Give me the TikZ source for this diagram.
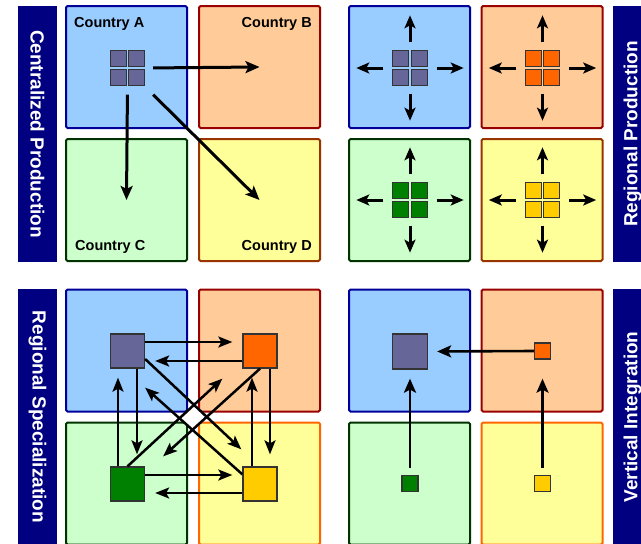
\documentclass[tikz,border=0pt]{standalone}
\usepackage{fontspec}
\setmainfont{Liberation Sans}
\usetikzlibrary{arrows.meta}

\definecolor{bandnavy}{HTML}{000080}
\definecolor{skyfill}{HTML}{99CCFF}
\definecolor{skyline}{HTML}{000099}
\definecolor{peachfill}{HTML}{FFCC99}
\definecolor{peachline}{HTML}{990000}
\definecolor{mintfill}{HTML}{CCFFCC}
\definecolor{mintline}{HTML}{003300}
\definecolor{lemonfill}{HTML}{FFFF99}
\definecolor{lemonline}{HTML}{993300}
\definecolor{lemonlinelow}{HTML}{FF6600}
\definecolor{plantA}{HTML}{666699}
\definecolor{plantB}{HTML}{FF6600}
\definecolor{plantC}{HTML}{008000}
\definecolor{plantD}{HTML}{FFCC00}
\definecolor{cellline}{HTML}{333333}

% 2x2 block of production cells, centred on the current point
\tikzset{
  pics/quad/.style={code={
    \foreach \sx in {-1,1}
      \foreach \sy in {-1,1}
        \draw[draw=cellline, line width=0.9pt, fill=#1]
          ({\sx*9.25-8},{\sy*9.25-8}) rectangle +(16,16);
  }}
}

\begin{document}
\begin{tikzpicture}[x=1pt,y=-1pt,
  region/.style={draw, line width=2pt, rounded corners=1.5pt,
    minimum width=121pt, minimum height=122pt, inner sep=0pt},
  sky/.style={region, fill=skyfill, draw=skyline},
  peach/.style={region, fill=peachfill, draw=peachline},
  mint/.style={region, fill=mintfill, draw=mintline},
  lemon/.style={region, fill=lemonfill, draw=lemonline},
  lemonlow/.style={region, fill=lemonfill, draw=lemonlinelow},
  band/.style={fill=bandnavy, minimum width=256pt, minimum height=39pt,
    inner sep=0pt, text=white, font=\bfseries\fontsize{19}{23}\selectfont},
  tag/.style={inner sep=0pt, font=\bfseries\fontsize{14.5}{17}\selectfont},
  spot/.style={minimum size=35pt, inner sep=0pt},
  plant/.style={draw=cellline, line width=1.3pt, inner sep=0pt},
  flow/.style={line width=3pt, -{Stealth[length=14pt,width=12pt,inset=3pt]}},
  spoke/.style={line width=3pt, -{Stealth[length=13pt,width=11pt,inset=3pt]}},
  trade/.style={line width=2.5pt, -{Stealth[length=14pt,width=11pt,inset=3pt]}},
  feed/.style={line width=2.6pt, -{Stealth[length=14pt,width=12pt,inset=3pt]}}
]
\useasboundingbox (0,0) rectangle (641,544);

% ---------- side banners ----------
\node[band, rotate=-90] (bandCP) at (37.5,134) {Centralized Production};
\node[band, rotate=90]  (bandRP) at (632.5,134) {Regional Production};
\node[band, rotate=-90] (bandRS) at (37.5,417) {Regional Specialization};
\node[band, rotate=90]  (bandVI) at (632.5,417) {Vertical Integration};

% ---------- centralized production ----------
\node[sky]   (cA) at (126.5,67)  {};
\node[peach] (cB) at (259.5,67)  {};
\node[mint]  (cC) at (126.5,200) {};
\node[lemon] (cD) at (259.5,200) {};
\node[tag, anchor=base west] (labA) at (74,27.5)  {Country A};
\node[tag, anchor=base east] (labB) at (312,27.5) {Country B};
\node[tag, anchor=base west] (labC) at (75,250.5) {Country C};
\node[tag, anchor=base east] (labD) at (312,250.5) {Country D};
\node[spot] (hubA) at (127.5,68) {};
\pic at (hubA) {quad=plantA};
\draw[flow, shorten <=8pt] (hubA.east) -- (cB.center);
\draw[flow, shorten <=9pt] (hubA.south) -- (cC.center);
\draw[flow] ([xshift=8pt,yshift=-9pt]hubA.south east) -- (cD.center);

% ---------- regional production ----------
\node[sky]   (rA) at (409.5,67)  {};
\node[peach] (rB) at (542,67)    {};
\node[mint]  (rC) at (409.5,200) {};
\node[lemon] (rD) at (542,200)   {};
\node[spot] (hA) at (410,68)    {};
\node[spot] (hB) at (542.5,68)  {};
\node[spot] (hC) at (410,200)   {};
\node[spot] (hD) at (542.5,200) {};
\pic at (hA) {quad=plantA};
\pic at (hB) {quad=plantB};
\pic at (hC) {quad=plantC};
\pic at (hD) {quad=plantD};
\foreach \h in {hA,hB,hC,hD} {
  \draw[spoke] ([yshift=8pt]\h.north)  -- ([yshift=35pt]\h.north);
  \draw[spoke] ([yshift=-8pt]\h.south) -- ([yshift=-35pt]\h.south);
  \draw[spoke] ([xshift=9pt]\h.east)   -- ([xshift=36pt]\h.east);
  \draw[spoke] ([xshift=-9pt]\h.west)  -- ([xshift=-36pt]\h.west);
}

% ---------- regional specialization ----------
\node[sky]      (sqA) at (126.5,350.5) {};
\node[peach]    (sqB) at (259.5,350.5) {};
\node[mint]     (sqC) at (126.5,483.5) {};
\node[lemonlow] (sqD) at (259.5,483.5) {};
\node[plant, fill=plantA, minimum size=34pt] (sA) at (127.5,351) {};
\node[plant, fill=plantB, minimum size=34pt] (sB) at (260,351)   {};
\node[plant, fill=plantC, minimum size=34pt] (sC) at (127.5,484) {};
\node[plant, fill=plantD, minimum size=34pt] (sD) at (260,484)   {};

\coordinate (d1s) at ([yshift=-8pt]sA.east);
\coordinate (d1e) at ([xshift=-1pt,yshift=17pt]sD.north west);
\coordinate (d2s) at ([yshift=-8pt]sD.north west);
\coordinate (d2e) at ([yshift=-19pt]sA.south east);
\coordinate (d3s) at (sB.south);
\coordinate (d3e) at ([xshift=18pt,yshift=10pt]sC.north east);
\coordinate (d4s) at (sC.north);
\coordinate (d4e) at ([xshift=-20pt,yshift=-10pt]sB.south west);
\fill[white] (intersection of d1s--d1e and d4s--d4e)
          -- (intersection of d1s--d1e and d3s--d3e)
          -- (intersection of d2s--d2e and d3s--d3e)
          -- (intersection of d2s--d2e and d4s--d4e) -- cycle;
\draw[trade] (d1s) -- (d1e);
\draw[trade] (d2s) -- (d2e);
\draw[trade] (d3s) -- (d3e);
\draw[trade] (d4s) -- (d4e);

\draw[trade, shorten >=10pt] ([yshift=9pt]sA.east)    -- ([yshift=9pt]sB.west);
\draw[trade, shorten >=10pt] ([yshift=-10pt]sB.west)  -- ([yshift=-10pt]sA.east);
\draw[trade, shorten >=12pt] ([xshift=9.5pt]sA.south) -- ([xshift=9.5pt]sC.north);
\draw[trade, shorten >=9pt]  ([xshift=-9.5pt]sC.north) -- ([xshift=-9.5pt]sA.south);
\draw[trade, shorten >=12pt] ([xshift=10pt]sB.south)  -- ([xshift=10pt]sD.north);
\draw[trade, shorten >=9pt]  ([xshift=-8pt]sD.north)  -- ([xshift=-8pt]sB.south);
\draw[trade, shorten >=10pt] ([yshift=9pt]sC.east)    -- ([yshift=9pt]sD.west);
\draw[trade, shorten >=10pt] ([yshift=-9pt]sD.west)   -- ([yshift=-9pt]sC.east);

% ---------- vertical integration ----------
\node[sky]      (vqA) at (409.5,350.5) {};
\node[peach]    (vqB) at (542,350.5)   {};
\node[mint]     (vqC) at (409.5,483.5) {};
\node[lemonlow] (vqD) at (542,483.5)   {};
\node[plant, fill=plantA, minimum size=35pt] (vA) at (410,351.5)  {};
\node[plant, fill=plantB, minimum size=16pt] (vB) at (542.5,351)  {};
\node[plant, fill=plantC, minimum size=16pt] (vC) at (410,483.5)  {};
\node[plant, fill=plantD, minimum size=16pt] (vD) at (542.5,483.5){};
\draw[feed, shorten >=9pt] (vB.west) -- (vA.east);
\draw[feed, shorten <=7pt, shorten >=9pt] (vC.north) -- (vA.south);
\draw[feed, shorten <=7pt, shorten >=19pt] (vD.north) -- (vB.south);
\end{tikzpicture}
\end{document}
